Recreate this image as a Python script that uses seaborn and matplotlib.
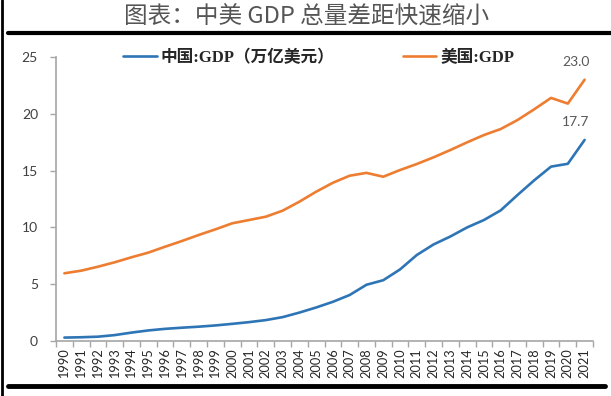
import numpy as np
import pandas as pd
import matplotlib
matplotlib.use('Agg')
import matplotlib.pyplot as plt
from matplotlib.lines import Line2D
import seaborn as sns

# 数据 (万亿美元)
years = list(range(1990, 2022))
china_gdp = [0.30, 0.33, 0.38, 0.52, 0.74, 0.93, 1.07, 1.17, 1.26, 1.37,
             1.51, 1.66, 1.84, 2.10, 2.50, 2.95, 3.45, 4.05, 4.95, 5.35,
             6.30, 7.57, 8.50, 9.20, 10.00, 10.65, 11.50, 12.85, 14.15, 15.35,
             15.60, 17.70]
us_gdp = [5.96, 6.19, 6.54, 6.93, 7.37, 7.78, 8.30, 8.80, 9.33, 9.83,
          10.36, 10.65, 10.94, 11.47, 12.26, 13.14, 13.93, 14.55, 14.80, 14.46,
          15.05, 15.58, 16.17, 16.81, 17.49, 18.13, 18.66, 19.45, 20.40, 21.40,
          20.90, 23.00]
series_names = ['中国:GDP（万亿美元）', '美国:GDP']
series_colors = ['#2E75B6', '#ED7D31']
y_ticks = [0, 5, 10, 15, 20, 25]

df = pd.DataFrame({
    'year': years * 2,
    'gdp': china_gdp + us_gdp,
    'series': [series_names[0]] * len(years) + [series_names[1]] * len(years),
})

sns.set_theme(style='white')
plt.rcParams['font.family'] = ['Lato', 'Noto Sans CJK SC', 'DejaVu Sans']
plt.rcParams['axes.unicode_minus'] = False

fig = plt.figure(figsize=(6.11, 3.96), dpi=100)
ax = fig.add_axes([56 / 611, 1 - 341 / 396, (593 - 56) / 611, (341 - 57) / 396])

sns.lineplot(data=df, x='year', y='gdp', hue='series', palette=series_colors,
             linewidth=1.9, ax=ax, legend=False)

ax.set_xlim(years[0] - 0.5, years[-1] + 0.5)
ax.set_ylim(0, 25)
ax.set_xlabel('')
ax.set_ylabel('')

# 坐标轴样式
for side in ['top', 'right']:
    ax.spines[side].set_visible(False)
for side in ['left', 'bottom']:
    ax.spines[side].set_color('#a6a6a6')
    ax.spines[side].set_linewidth(1.2)

ax.set_yticks(y_ticks)
ax.set_yticklabels([str(v) for v in y_ticks])
ax.tick_params(axis='y', direction='out', length=4, width=1, color='#a6a6a6',
               pad=9, labelsize=10, labelcolor='#404040', left=True)

ax.set_xticks(years)
ax.set_xticklabels([str(y) for y in years], rotation=90)
ax.set_xticks(np.arange(years[0] - 0.5, years[-1] + 1, 1), minor=True)
ax.tick_params(axis='x', which='major', length=0, pad=5, labelsize=9.2,
               labelcolor='#262626')
ax.tick_params(axis='x', which='minor', direction='out', length=4, width=1,
               color='#a6a6a6', bottom=True)

# 末端数值标注
for vals in [us_gdp, china_gdp]:
    ax.annotate(f'{vals[-1]:.1f}', xy=(years[-1], vals[-1]), xytext=(-6.5, 13),
                textcoords='offset points', ha='center', va='center',
                fontsize=10, color='#595959')

# 图例
handles = [Line2D([0], [0], color=c, lw=1.9) for c in series_colors]
fig.legend(handles, series_names, loc='center', bbox_to_anchor=(319 / 611, 1 - 58 / 396),
           ncol=2, frameon=False, handlelength=2.0, handletextpad=0.25,
           columnspacing=4.1,
           prop={'family': ['Liberation Serif', 'Noto Sans CJK SC'],
                 'weight': 'bold', 'size': 12})

# 标题
fig.text(307 / 611, 1 - 17 / 396, '图表：中美 GDP 总量差距快速缩小', ha='center', va='center',
         fontsize=17, color='#555555', family=['Noto Sans CJK SC', 'DejaVu Sans'])

# 上下粗线和左边框
fig.add_artist(Line2D([8 / 611, 1], [1 - 33 / 396] * 2, color='black', lw=3.0))
fig.add_artist(Line2D([8 / 611, 605 / 611], [1 - 386 / 396] * 2, color='black', lw=3.5))
fig.add_artist(Line2D([1.5 / 611] * 2, [0, 1], color='black', lw=2.0))

fig.savefig('out.png', dpi=100)
